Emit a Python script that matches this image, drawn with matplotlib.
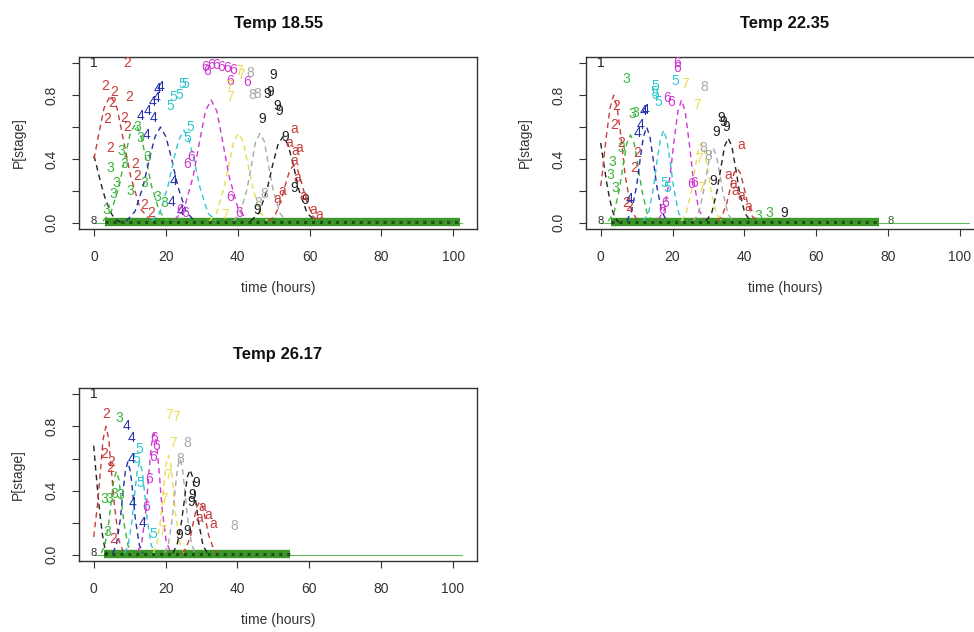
import matplotlib
matplotlib.use("Agg")
import matplotlib.pyplot as plt

plt.rcParams['font.family'] = ['Liberation Sans', 'DejaVu Sans']

# ---------------- data ----------------
titles = ["Temp 18.55", "Temp 22.35", "Temp 26.17"]
stage_labels = ["1", "2", "3", "4", "5", "6", "7", "8", "9", "a"]
x_ticks = [0, 20, 40, 60, 80, 100]
y_ticks = [0.0, 0.2, 0.4, 0.6, 0.8, 1.0]
y_tick_labels = ["0.0", "", "0.4", "", "0.8", ""]

# fitted curves, panel 1 (time, probability) per stage
p1_curve_t = [
    [0, 1, 2, 3, 4, 5, 6, 7.5],
    [0, 1.1, 2.8, 4.6, 6.4, 8.1, 10.1, 12.8, 15.5],
    [2.5, 4.8, 7.0, 8.6, 10.1, 11.5, 12.9, 14.4, 16.0, 18.2, 20.5],
    [9.0, 11.4, 13.7, 15.4, 17.0, 18.5, 20.0, 21.6, 23.3, 25.6, 28.0],
    [16.0, 18.3, 20.5, 22.1, 23.6, 25.0, 26.4, 27.9, 29.5, 31.7, 34.0],
    [22.5, 25.0, 27.6, 29.4, 31.0, 32.6, 34.2, 35.8, 37.6, 40.2, 42.7],
    [32.1, 34.1, 36.1, 37.6, 38.9, 40.2, 41.5, 42.8, 44.3, 46.3, 48.3],
    [38.9, 40.7, 42.6, 43.9, 45.0, 46.2, 47.4, 48.5, 49.8, 51.7, 53.5],
    [43.6, 45.9, 48.1, 49.7, 51.2, 52.6, 54.0, 55.5, 57.1, 59.3, 61.6],
    [48.6, 50.3, 52.1, 53.3, 54.5, 55.6, 56.7, 57.9, 59.1, 60.9, 62.6],
]
p1_curve_p = [
    [0.42, 0.33, 0.24, 0.16, 0.10, 0.05, 0.02, 0.0],
    [0.40, 0.53, 0.72, 0.80, 0.72, 0.53, 0.30, 0.09, 0.02],
    [0.01, 0.07, 0.23, 0.41, 0.56, 0.62, 0.56, 0.41, 0.23, 0.07, 0.01],
    [0.01, 0.07, 0.23, 0.40, 0.54, 0.60, 0.54, 0.40, 0.23, 0.07, 0.01],
    [0.01, 0.06, 0.22, 0.39, 0.52, 0.58, 0.52, 0.39, 0.22, 0.06, 0.01],
    [0.02, 0.08, 0.29, 0.51, 0.70, 0.77, 0.70, 0.51, 0.29, 0.08, 0.02],
    [0.01, 0.06, 0.21, 0.37, 0.51, 0.56, 0.51, 0.37, 0.21, 0.06, 0.01],
    [0.01, 0.06, 0.21, 0.37, 0.51, 0.56, 0.51, 0.37, 0.21, 0.06, 0.01],
    [0.01, 0.06, 0.20, 0.36, 0.49, 0.54, 0.49, 0.36, 0.20, 0.06, 0.01],
    [0.01, 0.04, 0.14, 0.24, 0.33, 0.36, 0.33, 0.24, 0.14, 0.04, 0.01],
]

# fitted curves, panel 2
p2_curve_t = [
    [0, 0.8, 1.6, 2.4, 3.2, 4.0, 5.0],
    [0, 0.4, 1.5, 2.6, 3.6, 4.6, 5.7, 6.8, 8.4, 10.0],
    [2.1, 3.7, 5.2, 6.3, 7.3, 8.3, 9.3, 10.3, 11.4, 12.9, 14.5],
    [7.2, 8.6, 10.0, 11.0, 11.9, 12.8, 13.7, 14.6, 15.6, 17.0, 18.4],
    [11.9, 13.3, 14.7, 15.7, 16.6, 17.5, 18.4, 19.3, 20.3, 21.7, 23.1],
    [16.1, 17.7, 19.3, 20.4, 21.5, 22.5, 23.5, 24.6, 25.7, 27.3, 28.9],
    [22.4, 23.8, 25.2, 26.2, 27.1, 28.0, 28.9, 29.8, 30.8, 32.2, 33.6],
    [25.7, 27.1, 28.5, 29.5, 30.4, 31.3, 32.2, 33.1, 34.1, 35.5, 36.9],
    [29.3, 30.9, 32.4, 33.5, 34.5, 35.5, 36.5, 37.5, 38.6, 40.1, 41.7],
    [32.4, 33.8, 35.2, 36.2, 37.1, 38.0, 38.9, 39.8, 40.8, 42.2, 43.6],
]
p2_curve_p = [
    [0.50, 0.38, 0.26, 0.16, 0.08, 0.03, 0.0],
    [0.23, 0.30, 0.53, 0.72, 0.80, 0.72, 0.53, 0.30, 0.09, 0.02],
    [0.01, 0.06, 0.21, 0.37, 0.50, 0.55, 0.50, 0.37, 0.21, 0.06, 0.01],
    [0.01, 0.07, 0.23, 0.40, 0.54, 0.60, 0.54, 0.40, 0.23, 0.07, 0.01],
    [0.01, 0.06, 0.22, 0.39, 0.52, 0.58, 0.52, 0.39, 0.22, 0.06, 0.01],
    [0.02, 0.08, 0.29, 0.51, 0.70, 0.77, 0.70, 0.51, 0.29, 0.08, 0.02],
    [0.01, 0.06, 0.19, 0.33, 0.45, 0.50, 0.45, 0.33, 0.19, 0.06, 0.01],
    [0.01, 0.05, 0.18, 0.31, 0.42, 0.47, 0.42, 0.31, 0.18, 0.05, 0.01],
    [0.01, 0.06, 0.20, 0.35, 0.48, 0.53, 0.48, 0.35, 0.20, 0.06, 0.01],
    [0.01, 0.04, 0.13, 0.23, 0.31, 0.34, 0.31, 0.23, 0.13, 0.04, 0.01],
]

# fitted curves, panel 3
p3_curve_t = [
    [0, 0.6, 1.2, 1.8, 2.4, 3.0, 3.8],
    [0, 1.0, 1.9, 2.6, 3.4, 4.2, 4.9, 5.8, 7.0, 8.2],
    [2.1, 3.1, 4.2, 4.95, 5.6, 6.3, 7.0, 7.65, 8.4, 9.5, 10.5],
    [5.3, 6.3, 7.4, 8.15, 8.8, 9.5, 10.2, 10.85, 11.6, 12.7, 13.7],
    [8.6, 9.6, 10.7, 11.45, 12.1, 12.8, 13.5, 14.15, 14.9, 16.0, 17.0],
    [12.3, 13.4, 14.6, 15.35, 16.1, 16.8, 17.5, 18.25, 19.0, 20.2, 21.3],
    [16.6, 17.6, 18.7, 19.45, 20.1, 20.8, 21.5, 22.15, 22.9, 24.0, 25.0],
    [19.8, 20.8, 21.9, 22.65, 23.3, 24.0, 24.7, 25.35, 26.1, 27.2, 28.2],
    [22.0, 23.2, 24.4, 25.3, 26.0, 26.8, 27.6, 28.3, 29.2, 30.4, 31.6],
    [24.5, 25.7, 27.0, 27.9, 28.7, 29.5, 30.3, 31.1, 32.0, 33.3, 34.5],
]
p3_curve_p = [
    [0.68, 0.52, 0.37, 0.24, 0.13, 0.05, 0.0],
    [0.11, 0.30, 0.53, 0.72, 0.80, 0.72, 0.53, 0.30, 0.09, 0.02],
    [0.01, 0.06, 0.20, 0.35, 0.47, 0.52, 0.47, 0.35, 0.20, 0.06, 0.01],
    [0.01, 0.06, 0.22, 0.39, 0.52, 0.58, 0.52, 0.39, 0.22, 0.06, 0.01],
    [0.01, 0.06, 0.22, 0.39, 0.52, 0.58, 0.52, 0.39, 0.22, 0.06, 0.01],
    [0.02, 0.08, 0.29, 0.51, 0.69, 0.76, 0.69, 0.51, 0.29, 0.08, 0.02],
    [0.01, 0.07, 0.23, 0.41, 0.56, 0.62, 0.56, 0.41, 0.23, 0.07, 0.01],
    [0.01, 0.07, 0.23, 0.40, 0.54, 0.60, 0.54, 0.40, 0.23, 0.07, 0.01],
    [0.01, 0.06, 0.20, 0.35, 0.48, 0.53, 0.48, 0.35, 0.20, 0.06, 0.01],
    [0.01, 0.04, 0.12, 0.22, 0.30, 0.33, 0.30, 0.22, 0.12, 0.04, 0.01],
]

# observed proportions (plotted as stage characters)
p1_obs_t = [0, 9.3, 3.2, 5.5, 5.1, 9.7, 3.7, 8.3, 9.3, 4.6, 11.6, 12.0, 13.9, 16.0,
            4.6, 6.3, 8.5, 5.5, 10.0, 12.0, 12.9, 14.8, 13.9, 17.6, 19.5, 3.5, 7.5,
            13.0, 14.8, 16.2, 17.4, 17.6, 18.4, 16.5, 22.2, 21.7, 24.0, 14.5,
            24.5, 25.5, 22.2, 21.2, 26.9, 26.0, 23.8,
            31.0, 32.5, 34.0, 35.5, 37.0, 38.8, 31.5, 38.0, 42.6, 26.9, 26.0, 38.0, 40.3, 24.0, 25.5,
            37.5, 40.3, 38.0, 41.0, 36.5,
            45.4, 43.6, 47.5, 45.8, 44.0,
            50.0, 48.1, 50.9, 46.8, 53.2, 55.6, 58.8, 45.4, 49.0, 51.5,
            55.6, 54.3, 56.0, 55.6, 50.9, 52.3, 58.3, 61.0, 62.8, 57.0, 56.5]
p1_obs_p = [1.0, 1.0, 0.86, 0.82, 0.75, 0.79, 0.65, 0.66, 0.60, 0.47, 0.37, 0.29, 0.11, 0.06,
            0.34, 0.25, 0.37, 0.18, 0.20, 0.60, 0.53, 0.41, 0.25, 0.16, 0.12, 0.08, 0.45,
            0.67, 0.70, 0.76, 0.78, 0.84, 0.85, 0.66, 0.26, 0.13, 0.07, 0.55,
            0.87, 0.87, 0.79, 0.73, 0.60, 0.53, 0.80,
            0.98, 0.99, 0.99, 0.98, 0.97, 0.96, 0.95, 0.89, 0.88, 0.41, 0.37, 0.16, 0.06, 0.08, 0.06,
            0.86, 0.95, 0.79, 0.93, 0.05,
            0.81, 0.94, 0.18, 0.12, 0.80,
            0.93, 0.81, 0.73, 0.65, 0.54, 0.22, 0.14, 0.08, 0.82, 0.70,
            0.59, 0.50, 0.45, 0.39, 0.15, 0.20, 0.17, 0.08, 0.05, 0.47, 0.28]
p1_obs_lab = (["1"] + ["2"] * 13 + ["3"] * 13 + ["4"] * 11 + ["5"] * 7 + ["6"] * 15
              + ["7"] * 5 + ["8"] * 5 + ["9"] * 10 + ["a"] * 11)

p2_obs_t = [0,
            7.0, 8.8, 9.5, 3.2, 5.7, 2.8, 4.0,
            4.2, 3.7, 5.8, 9.3, 10.2, 7.0, 8.0,
            12.5, 11.1, 10.3, 8.0, 12.0,
            15.3, 15.3, 16.0, 17.6, 18.5, 14.8, 20.8,
            21.3, 21.3, 18.5, 19.5, 18.0, 26.0, 25.3, 17.0,
            23.6, 26.8, 27.5, 28.0,
            28.7, 28.6, 30.0,
            33.5, 32.1, 34.8, 31.2, 51.0, 34.0,
            39.0, 36.8, 35.6, 39.0, 41.2, 37.5,
            47.0, 44.0]
p2_obs_p = [1.0,
            0.90, 0.68, 0.69, 0.38, 0.47, 0.30, 0.22,
            0.73, 0.61, 0.50, 0.34, 0.44, 0.12, 0.10,
            0.71, 0.61, 0.56, 0.15, 0.70,
            0.86, 0.80, 0.76, 0.25, 0.22, 0.82, 0.89,
            1.00, 0.97, 0.78, 0.76, 0.12, 0.25, 0.24, 0.08,
            0.87, 0.74, 0.40, 0.22,
            0.85, 0.47, 0.42,
            0.66, 0.57, 0.60, 0.26, 0.06, 0.63,
            0.49, 0.24, 0.30, 0.17, 0.10, 0.20,
            0.06, 0.04]
p2_obs_lab = (["1"] + ["3"] * 7 + ["2"] * 7 + ["4"] * 5 + ["5"] * 7 + ["6"] * 8
              + ["7"] * 4 + ["8"] * 3 + ["9"] * 6 + ["a"] * 6 + ["3"] * 2)

p3_obs_t = [0,
            3.4, 3.0, 5.0, 4.6, 5.5,
            7.1, 4.3, 3.0, 3.8, 5.8, 7.5,
            9.0, 10.4, 10.4, 13.6, 10.8,
            12.7, 11.8, 16.5, 13.0,
            16.8, 16.4, 15.4, 14.5, 17.5,
            21.0, 22.8, 22.0, 20.7, 19.5, 19.0,
            26.0, 24.2, 39.0,
            28.4, 27.5, 26.0, 23.8, 27.0,
            30.2, 31.8, 33.3, 29.4]
p3_obs_p = [1.0,
            0.88, 0.63, 0.58, 0.54, 0.10,
            0.85, 0.35, 0.35, 0.14, 0.38, 0.37,
            0.80, 0.73, 0.60, 0.20, 0.32,
            0.66, 0.60, 0.13, 0.45,
            0.73, 0.61, 0.47, 0.30, 0.68,
            0.87, 0.86, 0.70, 0.50, 0.35, 0.15,
            0.70, 0.60, 0.18,
            0.45, 0.37, 0.145, 0.12, 0.33,
            0.30, 0.25, 0.19, 0.23]
p3_obs_lab = (["1"] + ["2"] * 5 + ["3"] * 6 + ["4"] * 5 + ["5"] * 4 + ["6"] * 5
              + ["7"] * 6 + ["8"] * 3 + ["9"] * 5 + ["a"] * 4)

# dense band of zero observations near p = 0 (start / end time per panel)
band_start = [3.0, 3.0, 3.0]
band_end = [102.0, 77.5, 54.5]
zero_line_end = [102.5, 102.5, 102.5]
extra_zero_t = [None, 80.7, None]

# ---------------- style ----------------
palette = {"1": "#222222", "2": "#c83c3c", "3": "#3cb43c", "4": "#2430a8",
           "5": "#30c8d0", "6": "#d038d0", "7": "#e8dc50", "8": "#a8a8a8",
           "9": "#222222", "a": "#c83c3c"}

fig = plt.figure(figsize=(9.74, 6.32), dpi=100)
positions = [
    [0.0814, 0.6377, 0.4083, 0.2721],
    [0.6016, 0.6377, 0.4083, 0.2721],
    [0.0811, 0.1123, 0.4083, 0.2737],
]
curves_t = [p1_curve_t, p2_curve_t, p3_curve_t]
curves_p = [p1_curve_p, p2_curve_p, p3_curve_p]
obs_t = [p1_obs_t, p2_obs_t, p3_obs_t]
obs_p = [p1_obs_p, p2_obs_p, p3_obs_p]
obs_lab = [p1_obs_lab, p2_obs_lab, p3_obs_lab]

for i in range(3):
    ax = fig.add_axes(positions[i])
    ax.set_xlim(-4.1, 106.6)
    ax.set_ylim(-0.04, 1.04)

    # thin zero line and dense band
    ax.plot([0, zero_line_end[i]], [0, 0], color="#66bb66", lw=0.8, zorder=1)
    ax.plot([band_start[i], band_end[i]], [0.006, 0.006], color="#3c962a",
            lw=6.0, solid_capstyle="butt", zorder=2)
    ax.plot([band_start[i], band_end[i]], [0.004, 0.004], color="#1d5212",
            lw=2.2, linestyle=(0, (1, 1.6)), zorder=3)
    if extra_zero_t[i] is not None:
        ax.text(extra_zero_t[i], 0.01, "8", color="#2e6a1e", fontsize=8,
                ha="center", va="center", zorder=3)
    ax.text(0, 0.01, "8", color="#333333", fontsize=8, ha="center", va="center", zorder=3)

    # fitted curves
    for s, lab in enumerate(stage_labels):
        ax.plot(curves_t[i][s], curves_p[i][s], color=palette[lab], lw=1.0,
                linestyle=(0, (4, 3)), zorder=4)

    # observed stage characters
    for t, p, lab in zip(obs_t[i], obs_p[i], obs_lab[i]):
        ax.text(t, p, lab, color=palette[lab], fontsize=10, ha="center",
                va="center", zorder=5, clip_on=True)

    ax.set_xticks(x_ticks)
    ax.set_xticklabels([str(v) for v in x_ticks])
    ax.set_yticks(y_ticks)
    ax.set_yticklabels(y_tick_labels)
    ax.tick_params(direction="out", length=5, width=0.8, colors="#333333",
                   labelsize=10, pad=10)
    ax.tick_params(axis="y", labelrotation=90)
    for lbl in ax.get_yticklabels():
        lbl.set_va("center")
    for sp in ax.spines.values():
        sp.set_linewidth(1.0)
        sp.set_color("#333333")

    ax.set_title(titles[i], fontsize=12, fontweight="bold", pad=21, color="#111111")
    ax.set_xlabel("time (hours)", fontsize=10, color="#333333")
    ax.set_ylabel("P[stage]", fontsize=10, color="#333333")
    ax.xaxis.set_label_coords(0.5, -0.30)
    ax.yaxis.set_label_coords(-0.135, 0.5)

fig.savefig("out.png", dpi=100)
